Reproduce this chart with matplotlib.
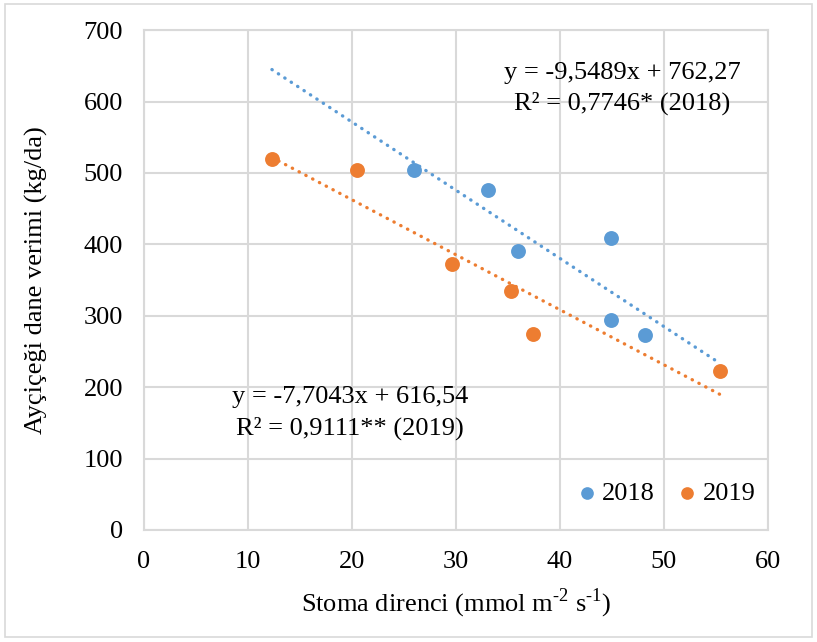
import numpy as np
import matplotlib.pyplot as plt
from matplotlib.patches import Rectangle

plt.rcParams['font.family'] = ['Liberation Serif', 'DejaVu Serif']
plt.rcParams['mathtext.fontset'] = 'custom'
plt.rcParams['mathtext.rm'] = 'Liberation Serif'

# 2018
x18 = [26.0, 33.1, 36.0, 44.9, 44.9, 48.2]
y18 = [504, 476, 391, 409, 294, 273]
# 2019
x19 = [12.3, 20.5, 29.6, 35.3, 37.4, 55.4]
y19 = [520, 504, 373, 335, 275, 223]

# trend lines (Excel)
fit18 = (-9.5489, 762.27)
fit19 = (-7.7043, 616.54)
trend_x = [12.3, 55.4]

blue = '#5B9BD5'
orange = '#ED7D31'
grid_c = '#D9D9D9'
fs = 19

fig = plt.figure(figsize=(8.17, 6.42), dpi=100)
ax = fig.add_axes([0.1763, 0.1745, 0.7637, 0.7785])

tx = np.array(trend_x)
ax.plot(tx, fit18[0] * tx + fit18[1], color=blue, lw=2.4,
        linestyle=(0, (0.1, 2.2)), dash_capstyle='round', zorder=2)
ax.plot(tx, fit19[0] * tx + fit19[1], color=orange, lw=2.4,
        linestyle=(0, (0.1, 2.2)), dash_capstyle='round', zorder=2)

ax.scatter(x18, y18, s=115, color=blue, label='2018', zorder=3, linewidths=0)
ax.scatter(x19, y19, s=115, color=orange, label='2019', zorder=3, linewidths=0)

ax.set_xlim(0, 60)
ax.set_ylim(0, 700)
ax.set_xticks(range(0, 61, 10))
ax.set_yticks(range(0, 701, 100))
ax.grid(True, color=grid_c, lw=1.5)
ax.set_axisbelow(True)
for s in ax.spines.values():
    s.set_color(grid_c)
    s.set_linewidth(1.5)
ax.tick_params(length=0, labelsize=fs)
ax.tick_params(axis='x', pad=15)
ax.tick_params(axis='y', pad=15)

ax.set_xlabel(r'Stoma direnci (mmol m$^{\text{-2}}$ s$^{\text{-1}}$)', fontsize=fs, labelpad=10)
ax.set_ylabel('Ayçiçeği dane verimi (kg/da)', fontsize=fs, labelpad=26)

ax.text(46.0, 640, 'y = -9,5489x + 762,27', fontsize=fs, ha='center', va='center')
ax.text(46.0, 597, 'R² = 0,7746* (2018)', fontsize=fs, ha='center', va='center')
ax.text(19.8, 186, 'y = -7,7043x + 616,54', fontsize=fs, ha='center', va='center')
ax.text(19.8, 143, 'R² = 0,9111** (2019)', fontsize=fs, ha='center', va='center')

ax.legend(loc='center', bbox_to_anchor=(0.832, 0.074), ncol=2, frameon=False,
          fontsize=fs, handletextpad=0.0, columnspacing=0.6, markerscale=0.85,
          borderaxespad=0, handlelength=1.2)

fig.patches.append(Rectangle((0.006, 0.008), 0.988, 0.986, transform=fig.transFigure,
                             fill=False, edgecolor=grid_c, lw=1.2))

fig.savefig('out.png', dpi=100)
